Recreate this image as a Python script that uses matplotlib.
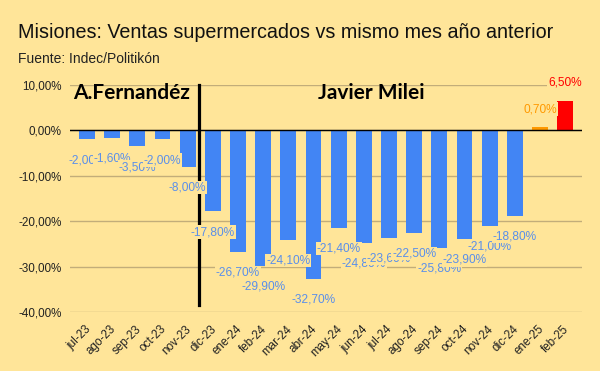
import matplotlib
matplotlib.use("Agg")
import matplotlib.pyplot as plt
import matplotlib.transforms as mtransforms
from matplotlib.ticker import FuncFormatter

# datos
meses = ["jul-23", "ago-23", "sep-23", "oct-23", "nov-23", "dic-23", "ene-24",
         "feb-24", "mar-24", "abr-24", "may-24", "jun-24", "jul-24", "ago-24",
         "sep-24", "oct-24", "nov-24", "dic-24", "ene-25", "feb-25"]
variacion = [-2.0, -1.6, -3.5, -2.0, -8.0, -17.8, -26.7, -29.9, -24.1, -32.7,
             -21.4, -24.8, -23.6, -22.5, -25.8, -23.9, -21.0, -18.8, 0.7, 6.5]
colores = ["#4285f4"] * 18 + ["#ff9900", "#ff0000"]
colores_texto = ["#5a8fea"] * 18 + ["#ff9900", "#ff0000"]
y_ticks = [10, 0, -10, -20, -30, -40]

fondo = "#ffe599"
plt.rcParams['font.family'] = ['Liberation Sans', 'DejaVu Sans']

fig = plt.figure(figsize=(6, 3.71), dpi=100, facecolor=fondo)
ax = fig.add_axes([70 / 600, 1 - 312 / 371, 512 / 600, 227 / 371], facecolor=fondo)

x = list(range(len(meses)))
ax.bar(x, variacion, width=0.63, color=colores, zorder=3)

ax.set_ylim(-40, 10)
ax.set_xlim(-0.676, 19.67)
ax.set_yticks(y_ticks)
ax.yaxis.set_major_formatter(FuncFormatter(lambda v, p: f"{v:.2f}%".replace(".", ",")))
ax.grid(axis="y", color="#c2ad7a", lw=1, zorder=0)
ax.axhline(0, color="black", lw=1, zorder=4)
for s in ax.spines.values():
    s.set_visible(False)
ax.tick_params(axis="both", length=0, labelsize=8.4, labelcolor="#222222")
ax.tick_params(axis="y", pad=6)
ax.tick_params(axis="x", pad=8)

ax.set_xticks(x)
ax.set_xticklabels(meses, rotation=45, ha="right")
desplazo = mtransforms.ScaledTranslation(6 / 100, 0, fig.dpi_scale_trans)
for lab in ax.get_xticklabels():
    lab.set_transform(lab.get_transform() + desplazo)

# etiquetas de datos
for i, v in enumerate(variacion):
    texto = f"{v:.2f}%".replace(".", ",")
    dy = -15 if v < 0 else 13
    ax.annotate(texto, (i, v), xytext=(0, dy), textcoords="offset points",
                ha="center", va="center", fontsize=8.6, color=colores_texto[i],
                bbox=dict(fc=fondo, ec="none", pad=0.6), zorder=5 + i)

# separación de gobiernos
ax.plot([4.47, 4.47], [9.9, -38.4], color="black", lw=2.3, zorder=6, clip_on=False)
ax.text(-0.56, 7.0, "A.Fernandéz", family="Lato", weight="bold", fontsize=15,
        ha="left", va="baseline", zorder=7)
ax.text(11.29, 7.0, "Javier Milei", family="Lato", weight="bold", fontsize=15,
        ha="center", va="baseline", zorder=7)

fig.text(18 / 600, 1 - 38 / 371, "Misiones: Ventas supermercados vs mismo mes año anterior",
         fontsize=14.2, color="#111111", ha="left", va="baseline")
fig.text(18 / 600, 1 - 63 / 371, "Fuente: Indec/Politikón",
         fontsize=10, color="#222222", ha="left", va="baseline")

fig.savefig("out.png", dpi=100, facecolor=fondo)
